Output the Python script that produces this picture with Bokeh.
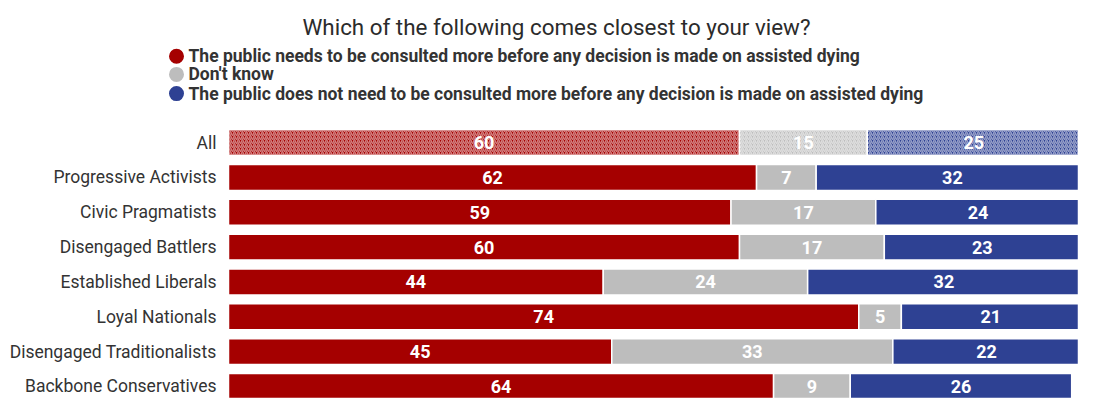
from bokeh.plotting import figure
from bokeh.models import Range1d, Label, ColumnDataSource
from bokeh.core.properties import value
from bokeh.embed import file_html
from bokeh.resources import INLINE

# ---------------- data ----------------
title_text = "Which of the following comes closest to your view?"
series_names = [
    "The public needs to be consulted more before any decision is made on assisted dying",
    "Don't know",
    "The public does not need to be consulted more before any decision is made on assisted dying",
]
series_colors = ["#A50000", "#BDBDBD", "#2E4193"]
categories = [
    "All",
    "Progressive Activists",
    "Civic Pragmatists",
    "Disengaged Battlers",
    "Established Liberals",
    "Loyal Nationals",
    "Disengaged Traditionalists",
    "Backbone Conservatives",
]
need_more = [60, 62, 59, 60, 44, 74, 45, 64]
dont_know = [15, 7, 17, 17, 24, 5, 33, 9]
no_need = [25, 32, 24, 23, 32, 21, 22, 26]
hatched_rows = ["All"]

# ---------------- layout ----------------
W, H = 1078, 398
BAR_X0 = 228                        # pixel where value 0 sits
VIEW_END = 99.8                     # value shown at right edge
PX_PER_UNIT = (W - BAR_X0) / VIEW_END
VSCALE = 0.96                       # vertical compression to fit window
ROW0_Y = 148 * VSCALE               # pixel centre of first row
ROW_STEP = 36.29 * VSCALE           # pixels between rows
BAR_H = 27 * VSCALE / ROW_STEP      # bar thickness in row units


def dx(px):
    return (px - BAR_X0) / PX_PER_UNIT


def dy(py):
    return (py * VSCALE - ROW0_Y) / ROW_STEP


FONT_NAME = "Roboto"
FONT = value(FONT_NAME)
TEXT_COLOR = "#333333"

p = figure(
    width=W, height=H,
    x_range=Range1d(dx(0), dx(W)),
    y_range=Range1d((H - ROW0_Y) / ROW_STEP, -ROW0_Y / ROW_STEP),
    output_backend="svg", toolbar_location=None,
    x_axis_location=None, y_axis_location=None,
    min_border=0,
)
p.grid.visible = False
p.outline_line_color = None
p.background_fill_color = "white"

rows = list(range(len(categories)))

# ---------------- bars ----------------
series_values = [need_more, dont_know, no_need]
cum = [0] * len(categories)
for vals, color in zip(series_values, series_colors):
    left = list(cum)
    right = [l + v for l, v in zip(left, vals)]
    cum = right
    src = ColumnDataSource(dict(
        y=rows,
        left=left,
        right=right,
        mid=[(l + r) / 2 for l, r in zip(left, right)],
        label=[str(v) for v in vals],
        hatch=["/" if c in hatched_rows else " " for c in categories],
    ))
    p.hbar(y="y", left="left", right="right", height=BAR_H, source=src,
           fill_color=color, line_color="white", line_width=1.5,
           hatch_pattern="hatch", hatch_color="white", hatch_alpha=0.5,
           hatch_scale=4, hatch_weight=1.5)
    p.text(x="mid", y="y", text="label", source=src,
           text_color="white", text_font=FONT, text_font_style="bold",
           text_font_size="18px", text_align="center", text_baseline="middle")

# ---------------- category labels ----------------
p.text(x=[dx(216)] * len(categories), y=rows, text=categories,
       text_color=TEXT_COLOR, text_font=FONT, text_font_size="17.5px",
       text_align="right", text_baseline="middle")

# ---------------- legend ----------------
leg_y = [dy(58), dy(77), dy(97)]
p.scatter(x=[dx(176)] * 3, y=leg_y, size=15, marker="circle",
          fill_color=series_colors, line_color=None)
p.text(x=[dx(188)] * 3, y=leg_y, text=series_names,
       text_color=TEXT_COLOR, text_font=FONT, text_font_style="bold",
       text_font_size="17.5px", text_align="left", text_baseline="middle")

# ---------------- title ----------------
p.add_layout(Label(x=dx(556), y=dy(28), text=title_text,
                   text_align="center", text_baseline="alphabetic",
                   text_font=FONT_NAME, text_font_size="22.4px",
                   text_color="#2b2b2b"))

open("out.html", "w").write(file_html(p, INLINE))
